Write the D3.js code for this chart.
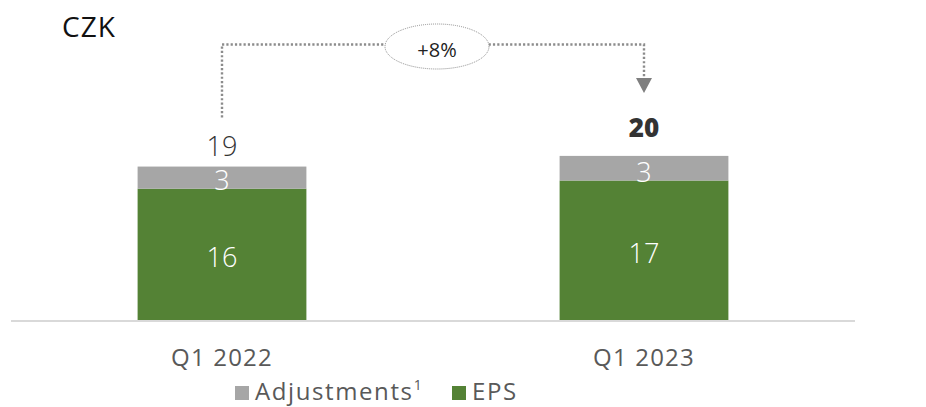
<!DOCTYPE html>
<html>
<head>
<meta charset="utf-8">
<script src="https://cdn.jsdelivr.net/npm/d3@7"></script>
<style>
  body { margin: 0; background: #fff; }
  svg { display: block; font-family: 'Open Sans', sans-serif; }
</style>
</head>
<body>
<script>
const categories = ['Q1 2022', 'Q1 2023'];
const eps = [16.0, 17.0];
const adjustments = [2.7, 3.0];
const growthLabel = '+8%';
const unitLabel = 'CZK';

const width = 926, height = 407;
const green = '#548235', gray = '#a6a6a6';

const svg = d3.select('body').append('svg')
  .attr('width', width)
  .attr('height', height);

const x = d3.scaleBand()
  .domain(categories)
  .range([11, 855])
  .paddingInner(0.6)
  .paddingOuter(0.3);

const y = d3.scaleLinear()
  .domain([0, 39])
  .range([320, 0]);

const rows = categories.map((c, i) => ({
  cat: c, eps: eps[i], adj: adjustments[i], total: eps[i] + adjustments[i]
}));

const stack = d3.stack().keys(['eps', 'adj'])(rows);
const colors = { eps: green, adj: gray };

// bars
svg.append('g').selectAll('g')
  .data(stack)
  .join('g')
  .attr('fill', d => colors[d.key])
  .selectAll('rect')
  .data(d => d)
  .join('rect')
  .attr('x', d => x(d.data.cat))
  .attr('width', x.bandwidth())
  .attr('y', d => y(d[1]))
  .attr('height', d => y(d[0]) - y(d[1]));

// segment labels
const fmt = d3.format('.0f');
svg.append('g').selectAll('text.eps')
  .data(stack[0])
  .join('text')
  .attr('x', d => x(d.data.cat) + x.bandwidth() / 2)
  .attr('y', d => (y(d[0]) + y(d[1])) / 2 + 2)
  .attr('text-anchor', 'middle')
  .attr('dominant-baseline', 'central')
  .attr('fill', '#fff')
  .attr('font-size', 27)
  .attr('font-weight', 300)
  .text(d => fmt(d[1] - d[0]));

svg.append('g').selectAll('text.adj')
  .data(stack[1])
  .join('text')
  .attr('x', d => x(d.data.cat) + x.bandwidth() / 2)
  .attr('y', d => y(d[0]) + 1)
  .attr('text-anchor', 'middle')
  .attr('fill', '#fff')
  .attr('font-size', 27)
  .attr('font-weight', 300)
  .text(d => fmt(d[1] - d[0]));

// totals
svg.append('g').selectAll('text')
  .data(rows)
  .join('text')
  .attr('x', d => x(d.cat) + x.bandwidth() / 2)
  .attr('y', (d, i) => y(d.total) - (i === 1 ? 19 : 11))
  .attr('text-anchor', 'middle')
  .attr('fill', '#333')
  .attr('font-size', (d, i) => i === 1 ? 26 : 27)
  .attr('font-weight', (d, i) => i === 1 ? 800 : 300)
  .text(d => fmt(d.total));

// baseline
svg.append('line')
  .attr('x1', x.range()[0]).attr('x2', x.range()[1])
  .attr('y1', y(0) + 1).attr('y2', y(0) + 1)
  .attr('stroke', '#d9d9d9')
  .attr('stroke-width', 2);

// category labels
svg.append('g').selectAll('text')
  .data(categories)
  .join('text')
  .attr('x', d => x(d) + x.bandwidth() / 2)
  .attr('y', 366)
  .attr('text-anchor', 'middle')
  .attr('fill', '#595959')
  .attr('font-size', 24)
  .attr('letter-spacing', 1.2)
  .text(d => d);

// unit label
svg.append('text')
  .attr('x', 62).attr('y', 37)
  .attr('fill', '#111')
  .attr('font-size', 28)
  .attr('letter-spacing', 1)
  .text(unitLabel);

// growth connector
const cx0 = x(categories[0]) + x.bandwidth() / 2;
const cx1 = x(categories[1]) + x.bandwidth() / 2;
const topY = 44.5;
const leftBottom = y(rows[0].total) - 49;
const arrowTip = y(rows[1].total) - 63;

svg.append('path')
  .attr('d', d3.line()([[cx0, leftBottom], [cx0, topY], [cx1, topY], [cx1, arrowTip - 15]]))
  .attr('fill', 'none')
  .attr('stroke', '#8c8c8c')
  .attr('stroke-width', 2.4)
  .attr('stroke-dasharray', '2.2 2.1');

svg.append('path')
  .attr('d', `M${cx1 - 8},${arrowTip - 15} L${cx1 + 8},${arrowTip - 15} L${cx1},${arrowTip} Z`)
  .attr('fill', '#7f7f7f');

const mid = (cx0 + cx1) / 2 + 4;
svg.append('ellipse')
  .attr('cx', mid).attr('cy', 46.5)
  .attr('rx', 52).attr('ry', 22.5)
  .attr('fill', '#fff')
  .attr('stroke', '#8c8c8c')
  .attr('stroke-width', 1)
  .attr('stroke-dasharray', '1 1');

svg.append('text')
  .attr('x', mid).attr('y', 57)
  .attr('text-anchor', 'middle')
  .attr('fill', '#222')
  .attr('font-size', 20)
  .text(growthLabel);

// legend
const legendItems = [
  { label: 'Adjustments', sup: '1', color: gray, x: 235 },
  { label: 'EPS', sup: '', color: green, x: 452 }
];
const lg = svg.append('g');
legendItems.forEach(it => {
  lg.append('rect')
    .attr('x', it.x).attr('y', 386)
    .attr('width', 14).attr('height', 14)
    .attr('fill', it.color);
  const t = lg.append('text')
    .attr('x', it.x + 20).attr('y', 400)
    .attr('fill', '#595959')
    .attr('font-size', 24)
    .attr('letter-spacing', 1.6)
    .text(it.label);
  if (it.sup) {
    t.append('tspan')
      .attr('dy', -10)
      .attr('font-size', 14)
      .text(it.sup);
  }
});
</script>
</body>
</html>
